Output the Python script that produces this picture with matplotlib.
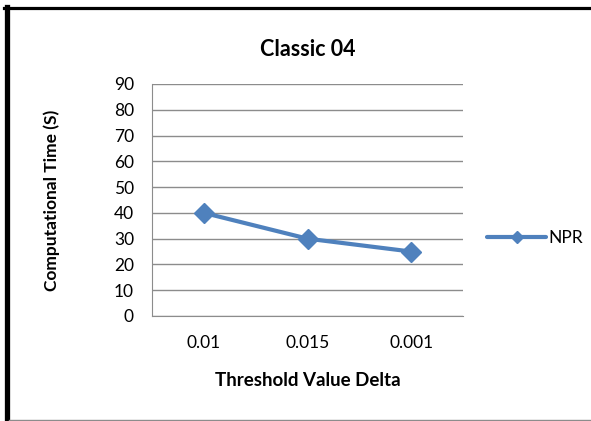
import matplotlib
matplotlib.use("Agg")
import matplotlib.pyplot as plt
from matplotlib.lines import Line2D

categories = ["0.01", "0.015", "0.001"]
npr_time = [40, 30, 25]
y_ticks = [0, 10, 20, 30, 40, 50, 60, 70, 80, 90]

plt.rcParams['font.family'] = ['Lato', 'DejaVu Sans']

fig = plt.figure(figsize=(5.91, 4.21), dpi=100, facecolor="white")
ax = fig.add_axes([152 / 591, 1 - 316 / 421, 311 / 591, 232 / 421])

x = range(len(categories))
ax.plot(x, npr_time, color="#4F81BD", linewidth=3, marker="D", markersize=10,
        solid_capstyle="round", zorder=3)

ax.set_xlim(-0.5, len(categories) - 0.5)
ax.set_ylim(0, 90)
ax.set_yticks(y_ticks)
ax.set_xticks(list(x))
ax.set_xticklabels(categories)
ax.yaxis.grid(True, color="#8C8C8C", linewidth=1)
ax.set_axisbelow(True)

for side in ["top", "right"]:
    ax.spines[side].set_visible(False)
ax.spines["left"].set_color("#8C8C8C")
ax.spines["bottom"].set_color("#8C8C8C")
ax.tick_params(axis="both", length=0, labelsize=12.5, colors="black")
ax.tick_params(axis="x", pad=14)
ax.tick_params(axis="y", pad=13)

ax.set_title("Classic 04", fontsize=15.5, fontweight="bold", pad=20)
ax.set_xlabel("Threshold Value Delta", fontsize=13.5, fontweight="bold", labelpad=15)
ax.set_ylabel("Computational Time (S)", fontsize=12.5, fontweight="bold", labelpad=39)

# legend handle: line with a small diamond, like Excel
handle = Line2D([], [], color="#4F81BD", linewidth=3, marker="D", markersize=6,
                solid_capstyle="round")
ax.legend([handle], ["NPR"], loc="center left", bbox_to_anchor=(1.05, 0.335),
          frameon=False, fontsize=12.5, handlelength=3.4, handletextpad=0.1, borderpad=0)

# chart border like the original
fig.add_artist(Line2D([6.5 / 591, 6.5 / 591], [1 - 7 / 421, 0], transform=fig.transFigure,
                      color="black", linewidth=3.8))
fig.add_artist(Line2D([4 / 591, 1], [1 - 8 / 421, 1 - 8 / 421], transform=fig.transFigure,
                      color="black", linewidth=2.3))
fig.add_artist(Line2D([9 / 591, 1], [1 - 419.5 / 421, 1 - 419.5 / 421], transform=fig.transFigure,
                      color="#8C8C8C", linewidth=1))

plt.savefig("out.png", dpi=100)
plt.close()
